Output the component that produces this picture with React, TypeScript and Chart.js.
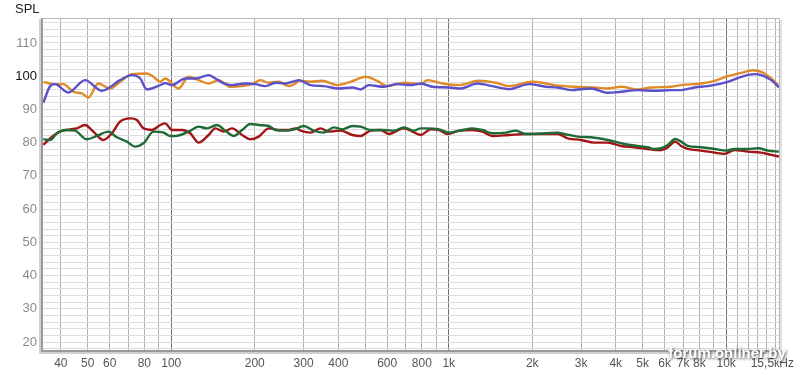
import React, { useEffect, useRef } from "react";
import { Chart, registerables } from "chart.js";

Chart.register(...registerables);

// ---- data ----
const blueFreq = [34.6, 36.6, 38.1, 42.6, 48.9, 56.2, 65.4, 72.1, 77.3, 81.7, 91.3, 95.1, 100.6, 112.3, 122.0, 136.4, 144.2, 154.5, 165.6, 184.9, 201.0, 218.5, 237.4, 258.0, 280.3, 288.1, 317.6, 354.6, 401.8, 449.2, 481.3, 515.6, 584.1, 652.9, 729.4, 792.6, 873.4, 1002.5, 1105, 1269, 1438, 1651, 1950, 2240, 2469, 2757, 3256, 3741, 4178, 4800, 5512, 6330, 6880, 7684, 8588, 10141, 11330, 12656, 13381, 14540, 15500];
const blueSpl = [92.0, 97.0, 97.6, 95.1, 98.8, 95.6, 98.8, 100.3, 99.3, 96.0, 97.3, 97.9, 97.3, 99.3, 99.3, 100.3, 99.3, 97.8, 97.3, 97.8, 97.6, 97.0, 98.0, 97.8, 98.6, 98.8, 97.3, 97.0, 96.3, 96.6, 96.0, 97.3, 96.8, 97.6, 97.3, 97.8, 96.8, 96.6, 96.3, 97.8, 97.0, 96.1, 97.6, 96.8, 96.6, 95.8, 96.3, 95.0, 95.3, 95.8, 95.6, 95.8, 95.8, 96.6, 97.0, 98.3, 99.8, 100.6, 100.3, 98.8, 96.6];

const orangeFreq = [34.6, 37.6, 40.8, 44.4, 47.6, 50.3, 54.6, 60.2, 65.4, 72.1, 81.7, 86.3, 91.3, 95.1, 106.3, 115.5, 125.5, 136.4, 148.2, 163.3, 180.0, 195.6, 209.6, 224.6, 244.0, 265.1, 280.3, 288.1, 317.6, 349.9, 396.6, 442.9, 501.6, 552.8, 600.8, 689.8, 792.6, 837.9, 949.1, 1089.5, 1286, 1478, 1651, 2006, 2240, 2400, 2834, 3347, 3741, 4178, 4800, 5361, 6330, 6880, 8121, 9073, 10141, 11330, 12487, 13381, 14540, 15500];
const orangeSpl = [98.3, 97.6, 97.6, 95.3, 94.8, 93.6, 97.8, 96.3, 98.3, 100.6, 100.8, 99.8, 98.3, 99.3, 96.3, 99.8, 98.8, 97.8, 98.8, 96.8, 97.0, 97.6, 98.8, 98.0, 98.3, 97.0, 97.8, 98.6, 98.3, 98.6, 97.3, 98.3, 99.8, 98.6, 97.0, 98.0, 97.6, 98.8, 97.8, 97.3, 98.6, 98.0, 97.0, 98.3, 97.8, 97.3, 96.8, 96.6, 96.3, 96.8, 96.0, 96.6, 96.8, 97.3, 97.8, 98.6, 100.0, 101.0, 101.8, 101.3, 99.3, 97.0];

const redFreq = [34.6, 36.6, 39.7, 43.2, 45.7, 48.9, 52.4, 56.9, 61.1, 65.4, 71.1, 75.2, 79.4, 85.2, 91.3, 95.1, 100.6, 109.3, 117.1, 125.5, 136.4, 144.2, 154.5, 165.6, 180.0, 192.8, 206.6, 224.6, 244.0, 265.1, 280.3, 292.2, 317.6, 345.1, 369.6, 407.5, 449.2, 481.3, 522.9, 568.2, 608.9, 652.9, 689.8, 739.8, 792.6, 861.0, 922.6, 989.3, 1089.5, 1218, 1323, 1438, 1651, 1897, 2240, 2469, 2683, 2997, 3347, 3741, 4178, 4667, 5216, 5590, 5826, 6159, 6544, 6880, 7273, 8121, 9073, 9860, 10715, 11978, 13381, 14540, 15500];
const redSpl = [79.3, 81.3, 83.3, 84.0, 84.3, 85.3, 83.3, 80.8, 82.8, 86.3, 87.3, 86.8, 84.3, 83.8, 85.3, 85.8, 83.8, 83.8, 82.8, 80.0, 82.3, 84.3, 83.3, 84.3, 82.3, 81.0, 81.8, 84.3, 83.8, 83.8, 84.3, 83.6, 83.0, 84.3, 83.3, 83.6, 82.3, 82.0, 83.6, 83.8, 82.6, 83.6, 84.3, 83.3, 82.3, 84.0, 83.8, 82.6, 83.6, 83.8, 83.3, 82.0, 82.3, 82.6, 82.6, 82.6, 81.3, 80.8, 80.0, 80.0, 79.0, 78.6, 78.1, 77.8, 77.8, 78.6, 80.3, 79.0, 78.1, 77.6, 77.0, 76.6, 77.8, 77.3, 77.0, 76.3, 75.8];

const greenFreq = [34.6, 36.6, 38.7, 41.4, 45.0, 49.6, 53.9, 59.4, 63.7, 69.2, 74.1, 79.4, 86.3, 93.8, 99.2, 103.4, 115.5, 125.5, 134.6, 146.2, 156.7, 167.9, 180.0, 192.8, 206.6, 224.6, 237.4, 258.0, 280.3, 300.3, 326.4, 354.6, 385.5, 413.3, 449.2, 481.3, 522.9, 584.1, 634.7, 689.8, 749.7, 792.6, 826.2, 922.6, 1002.5, 1121, 1218, 1323, 1438, 1607, 1746, 1897, 2240, 2469, 2608, 2916, 3256, 3741, 4295, 4800, 5216, 5512, 5826, 6159, 6544, 6880, 7273, 8121, 9073, 10000, 10715, 11978, 13019, 14144, 15500];
const greenSpl = [81.0, 80.8, 82.8, 83.8, 83.6, 81.0, 82.0, 83.3, 81.6, 80.3, 78.8, 79.8, 83.3, 83.0, 82.0, 82.0, 83.3, 84.8, 84.3, 85.3, 83.6, 82.0, 83.8, 85.6, 85.3, 85.0, 83.8, 83.6, 84.1, 85.0, 83.6, 83.0, 84.6, 84.0, 85.0, 84.8, 83.8, 83.8, 83.6, 84.6, 83.6, 84.3, 84.3, 84.0, 83.0, 83.8, 84.3, 83.8, 82.8, 83.0, 83.6, 82.6, 82.8, 83.0, 82.6, 81.8, 81.6, 80.8, 79.6, 79.0, 78.6, 78.1, 78.3, 79.3, 81.1, 80.3, 79.0, 78.6, 78.1, 77.6, 78.1, 78.1, 78.3, 77.6, 77.3];

// axis ticks
const xTicks = [40, 50, 60, 70, 80, 90, 100, 200, 300, 400, 500, 600, 700, 800, 900, 1000, 2000, 3000, 4000, 5000, 6000, 7000, 8000, 9000, 10000, 11000, 12000, 13000, 14000, 15000, 15500];
const xTickLabels: Record<number, string> = {
  40: "40", 50: "50", 60: "60", 80: "80", 100: "100", 200: "200", 300: "300", 400: "400",
  600: "600", 800: "800", 1000: "1k", 2000: "2k", 3000: "3k", 4000: "4k", 5000: "5k",
  6000: "6k", 7000: "7k", 8000: "8k", 10000: "10k", 15500: "15,5кHz\u00a0\u00a0\u00a0\u00a0",
};
const xMajor = [100, 1000, 10000];
const yTicks = [18, 20, 22, 24, 26, 28, 30, 32, 34, 36, 38, 40, 42, 44, 46, 48, 50, 52, 54, 56, 58, 60, 62, 64, 66, 68, 70, 72, 74, 76, 78, 80, 82, 84, 86, 88, 90, 92, 94, 96, 98, 100, 102, 104, 106, 108, 110, 112, 114, 116];
const yLabelled = [20, 30, 40, 50, 60, 70, 80, 90, 100, 110];

const FONT = "'Liberation Sans', Arial, sans-serif";

const framePlugin = {
  id: "frame",
  afterDraw(chart: any) {
    const { ctx, chartArea } = chart;
    const { left, right, top, bottom } = chartArea;
    ctx.save();
    ctx.strokeStyle = "#b8b8b8";
    ctx.lineWidth = 1;
    ctx.beginPath();
    ctx.moveTo(left, top + 0.5);
    ctx.lineTo(right + 0.5, top + 0.5);
    ctx.lineTo(right + 0.5, bottom);
    ctx.stroke();
    ctx.fillStyle = "#e2e2e2";
    ctx.fillRect(right + 1, top + 2, 2, bottom - top);
    ctx.fillStyle = "#9a9a9a";
    ctx.fillRect(left - 2, top, 2, bottom - top + 2);
    ctx.fillRect(left - 2, bottom, right - left + 3, 2);
    ctx.fillStyle = "#d0d0d0";
    ctx.fillRect(left - 4, top + 1, 2, bottom - top + 3);
    ctx.fillRect(left - 4, bottom + 2, right - left + 5, 2);
    ctx.fillStyle = "#222";
    ctx.font = `13px ${FONT}`;
    ctx.textAlign = "left";
    ctx.textBaseline = "middle";
    ctx.fillText("SPL", 15, 9);
    ctx.font = `bold 15px ${FONT}`;
    ctx.textAlign = "center";
    ctx.shadowColor = "rgba(0,0,0,0.75)";
    ctx.shadowBlur = 3;
    ctx.shadowOffsetX = 1;
    ctx.shadowOffsetY = 1;
    ctx.fillStyle = "#ffffff";
    ctx.fillText("forum.onliner.by", 727, 354);
    ctx.restore();
  },
};

function pts(fs: number[], vs: number[]) {
  return fs.map((f, i) => ({ x: f, y: vs[i] }));
}

export default function App() {
  const ref = useRef<HTMLCanvasElement | null>(null);
  useEffect(() => {
    if (!ref.current) return;
    const mk = (data: any, color: string) => ({
      data,
      borderColor: color,
      backgroundColor: color,
      borderWidth: 2.4,
      pointRadius: 0,
      cubicInterpolationMode: "monotone" as const,
      fill: false,
    });
    const chart = new Chart(ref.current, {
      type: "line",
      data: {
        datasets: [
          mk(pts(greenFreq, greenSpl), "#1f6b38"),
          mk(pts(redFreq, redSpl), "#a21416"),
          mk(pts(blueFreq, blueSpl), "#5a50c8"),
          mk(pts(orangeFreq, orangeSpl), "#e08a2a"),
        ],
      },
      options: {
        animation: false,
        responsive: true,
        maintainAspectRatio: false,
        layout: { padding: { left: 0, top: 18, right: 21, bottom: 0 } },
        plugins: { legend: { display: false }, tooltip: { enabled: false }, title: { display: false } },
        scales: {
          x: {
            type: "logarithmic",
            min: 34.5,
            max: 15500,
            afterBuildTicks: (s: any) => {
              s.ticks = xTicks.map((v) => ({ value: v }));
            },
            afterFit: (s: any) => {
              s.height = 25;
              s.paddingLeft = 0;
              s.paddingRight = 0;
            },
            border: { display: false },
            grid: {
              drawTicks: false,
              color: (c: any) => (c.tick && xMajor.includes(c.tick.value) ? "#707070" : c.tick && c.tick.value === 15500 ? "rgba(0,0,0,0)" : "#b0b0b0"),
              lineWidth: 1,
            },
            ticks: {
              autoSkip: false,
              maxRotation: 0,
              minRotation: 0,
              padding: 6,
              color: "#555",
              font: { family: FONT, size: 12 },
              callback: (v: any) => xTickLabels[Number(v)] ?? "",
            },
          },
          y: {
            type: "linear",
            z: -1,
            min: 17.6,
            max: 117.5,
            afterBuildTicks: (s: any) => {
              s.ticks = yTicks.map((v) => ({ value: v }));
            },
            afterFit: (s: any) => {
              s.width = 43;
              s.paddingTop = 0;
              s.paddingBottom = 0;
            },
            border: { display: false },
            grid: { drawTicks: false, color: "#dcdcdc", lineWidth: 1 },
            ticks: {
              autoSkip: false,
              padding: 6,
              font: { family: FONT, size: 13 },
              color: (c: any) => (c.tick && c.tick.value === 100 ? "#111" : "#8a8a8a"),
              callback: (v: any) => (yLabelled.includes(Number(v)) ? String(v) : ""),
            },
          },
        },
      },
      plugins: [framePlugin],
    });
    return () => chart.destroy();
  }, []);
  return (
    <div style={{ position: "fixed", left: 0, top: 0, width: 800, height: 375, background: "#fff" }}>
      <canvas ref={ref} />
    </div>
  );
}
